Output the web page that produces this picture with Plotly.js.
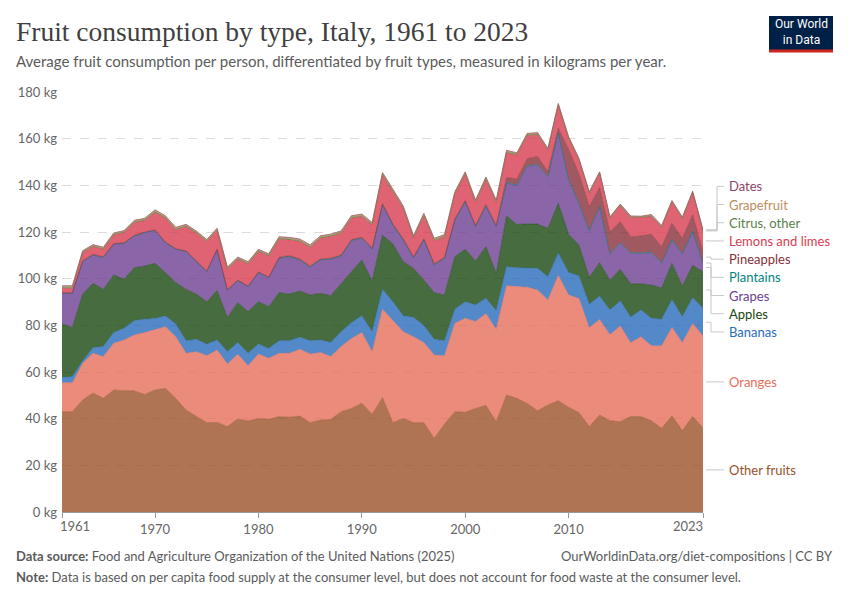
<!DOCTYPE html>
<html>
<head>
<meta charset="utf-8">
<script src="https://cdn.plot.ly/plotly-3.0.1.min.js"></script>
<style>
  html, body { margin: 0; padding: 0; background: #fff; }
  #chart { width: 850px; height: 600px; }
</style>
</head>
<body>
<div id="chart"></div>
<script>
// Per-capita fruit supply in Italy, kg per person per year, 1961–2023
const firstYear = 1961;
const lastYear = 2023;
const years = [];
for (let y = firstYear; y <= lastYear; y++) years.push(y);

const otherFruits = [43,43,48,51,48.7,52.3,52,51.9,50.4,52.3,
  53,48.7,43.7,40.9,38.3,38.4,36.6,39.9,39,40.1,
  39.7,40.9,40.6,41.1,38.3,39.4,39.7,43,44.4,46.6,
  41.9,49,38.3,40.1,38.3,38.3,31.6,37.7,43,42.7,
  44.4,45.7,38.7,50.1,48.7,46.5,43.4,45.9,47.7,44.9,
  42.6,36.6,41.6,39.1,38.7,40.9,40.9,39.1,35.9,41.2,
  34.9,40.9,36.1];

const oranges = [12.4,12.4,15.7,17,17.9,20,21.7,24,26.5,25.7,
  26.4,26.4,24.3,27.8,28.7,31,26.8,27.7,23.7,27.6,
  26.2,27.1,27.4,28.6,29.4,29,26.9,27.9,30,30.3,
  26.8,37.9,44,37.2,36.8,34.3,35.7,29.3,37.9,40.3,
  37.2,39.3,39.6,46.9,47.9,49.8,51.7,45,53.7,48.1,
  48.9,42.4,40.9,36.9,41,31.6,34.2,32.1,35.3,37.9,
  37.6,39.9,39.3];

const bananas = [2.3,2.6,1,2.4,4.3,4.6,5,6.1,5.7,4.9,
  4.6,5.5,5.4,5.3,4.9,4.3,5.3,5,5.3,4.3,
  4.2,5.4,5.4,5.2,5.7,5.3,6,6.4,6.7,7.2,
  8.6,8.5,7.8,6.8,8.3,7.3,6.7,6.4,6,7.1,
  7.1,6.6,8,8.1,8.1,8.4,9.3,9.9,9.5,9.6,
  9.6,10,10,10.6,10.7,11,11.5,11.8,11.4,11.9,
  11.2,11,11.9];

const apples = [22.9,21.1,28.7,27.6,24.5,24.7,21,22.7,22.8,23.7,
  18.6,17.7,22,19.4,18.2,21.2,14.7,17.1,17.9,18.1,
  17.9,20.6,20,19.8,19.6,20,20.1,20.7,21.9,23.9,
  21.7,23.3,24.8,23.2,21,19.5,20,19.6,22.5,22.5,
  18.9,22.1,16,21.8,18.5,18.8,19,20.8,21.4,16.4,
  13.3,11.6,14.3,12.7,13.6,14.3,11.2,14.3,13.4,15.5,
  13.1,13.9,15.7];

const grapes = [13.1,14.6,13.9,12.1,13.7,13.1,15.4,13.6,14.3,14,
  12.8,14.3,16.2,13.9,12.9,17.4,11.6,9.4,10.7,12.5,
  12.4,14.7,16,13.3,11.9,14.3,15.6,11.7,13.3,9.3,
  13.6,12.9,8.1,9.3,4.5,17.2,11.9,15.7,15.7,20.4,
  14.7,17.3,20,14,16.8,24.7,25.3,22.1,30,23.5,
  17.9,19.9,23.9,11.2,11.2,13.1,13,13.8,10.7,10.1,
  13.7,14.4,3.6];

const plantains = [0.1,0.1,0.1,0.1,0.1,0.1,0.1,0.1,0.1,0.1,
  0.1,0.1,0.1,0.1,0.1,0.1,0.1,0.1,0.1,0.1,
  0.1,0.1,0.1,0.1,0.1,0.1,0.1,0.1,0.1,0.1,
  0.1,0.1,0.1,0.1,0.1,0.1,0.1,0.1,0.1,0.1,
  0.1,0.2,0.2,0.2,0.2,0.2,0.2,0.2,0.2,0.2,
  0.2,0.2,0.2,0.2,0.2,0.2,0.2,0.2,0.2,0.2,
  0.2,0.2,0.2];

const pineapples = [0.2,0.2,0.2,0.2,0.2,0.2,0.2,0.2,0.2,0.2,
  0.2,0.2,0.2,0.2,0.2,0.2,0.2,0.2,0.2,0.2,
  0.2,0.4,0.4,0.4,0.4,0.4,0.4,0.4,0.4,0.4,
  0.4,0.4,0.4,0.4,0.4,0.4,0.4,0.4,0.4,0.4,
  0.4,0.6,0.3,2.2,2.6,3,3.5,2,2,12.8,
  12.5,10.2,8.1,9.4,9,6.9,7.3,7.8,6.8,6.9,
  6.6,7,4.8];

const lemonsLimes = [1.8,1.8,3.5,3.3,3.2,3.7,4.3,5.4,4.9,7.4,
  10.2,8,10.4,11.8,12.6,8,8.7,8.9,9.4,8.7,
  9,7.7,6.7,7.4,8,8.8,9.2,9.2,9.1,8.8,
  9.9,12.3,13.8,13,8,9.8,9.8,8.6,10.6,11.2,
  9.8,10.7,9.8,10.6,10.2,9.9,9.2,9.1,9.7,4.5,
  5.7,5.6,6,5.7,6.9,8.2,7.9,7.5,8.3,9,
  8.3,9.4,8.7];

const citrusOther = [0.4,0.4,0.3,0.3,0.3,0.3,0.3,0.4,0.4,0.5,
  0.4,0.4,0.4,0.4,0.4,0.4,0.4,0.4,0.4,0.4,
  0.4,0.4,0.4,0.4,0.4,0.4,0.4,0.4,0.4,0.4,
  0.4,0.4,0.4,0.4,0.4,0.4,0.4,0.4,0.4,0.4,
  0.4,0.4,0.4,0.4,0.4,0.4,0.4,0.4,0.4,0.4,
  0.4,0.4,0.4,0.3,0.3,0.3,0.3,0.4,0.3,0.3,
  0.3,0.3,0.3];

const grapefruit = [0.6,0.6,0.5,0.5,0.5,0.5,0.5,0.5,0.5,0.6,
  0.6,0.6,0.5,0.5,0.4,0.5,0.5,0.5,0.5,0.5,
  0.5,0.6,0.6,0.6,0.6,0.6,0.6,0.6,0.6,0.6,
  0.6,0.6,0.6,0.6,0.6,0.6,0.6,0.6,0.6,0.6,
  0.6,0.6,0.6,0.6,0.5,0.5,0.5,0.4,0.4,0.4,
  0.4,0.3,0.3,0.3,0.3,0.3,0.2,0.4,0.4,0.4,
  0.4,0.4,0.3];

const dates = [0.2,0.2,0.1,0.1,0.1,0.1,0.1,0.1,0.1,0.1,
  0.1,0.1,0.1,0.1,0.1,0.1,0.1,0.1,0.1,0.1,
  0.1,0.1,0.1,0.1,0.1,0.1,0.1,0.1,0.1,0.1,
  0.1,0.1,0.1,0.1,0.1,0.1,0.1,0.1,0.1,0.1,
  0.1,0.1,0.1,0.1,0.1,0.1,0.1,0.1,0.1,0.1,
  0.1,0.1,0.1,0.1,0.1,0.1,0.1,0.1,0.1,0.1,
  0.1,0.1,0.1];

// Stack order, bottom to top
const series = [
  { name: 'Other fruits',     values: otherFruits, color: '#9A5129' },
  { name: 'Oranges',          values: oranges,     color: '#E56E5A' },
  { name: 'Bananas',          values: bananas,     color: '#286BBB' },
  { name: 'Apples',           values: apples,      color: '#18470F' },
  { name: 'Grapes',           values: grapes,      color: '#6D3E91' },
  { name: 'Plantains',        values: plantains,   color: '#00847E' },
  { name: 'Pineapples',       values: pineapples,  color: '#883039' },
  { name: 'Lemons and limes', values: lemonsLimes, color: '#D73C50' },
  { name: 'Citrus, other',    values: citrusOther, color: '#578145' },
  { name: 'Grapefruit',       values: grapefruit,  color: '#BC8E5A' },
  { name: 'Dates',            values: dates,       color: '#8C4569' }
];

const yTicks = [0,20,40,60,80,100,120,140,160,180];
const xTicks = [1961,1970,1980,1990,2000,2010,2023];

function rgba(hex, a) {
  const n = parseInt(hex.slice(1), 16);
  return `rgba(${(n >> 16) & 255},${(n >> 8) & 255},${n & 255},${a})`;
}

// Plot-area geometry in pixels
const W = 850, H = 600;
const PL = 62, PR = 703, PT = 92, PB = 512;
const yMax = 180;
const px2x = px => (px - PL) / (PR - PL);
const px2y = py => (PB - py) / (PB - PT);
const v2py = v => PB - v / yMax * (PB - PT);

const traces = series.map(s => ({
  type: 'scatter',
  mode: 'lines',
  x: years,
  y: s.values,
  name: s.name,
  stackgroup: 'fruit',
  line: { color: s.color, width: 0.5, shape: 'linear' },
  fillcolor: rgba(s.color, 0.8),
  hoverinfo: 'skip'
}));

// End-of-line labels: place each at the middle of its band in the final year,
// then spread overlapping labels apart, keeping each group centred.
const last = years.length - 1;
let cum = 0;
const labels = series.map(s => {
  const v = s.values[last];
  const mid = cum + v / 2;
  cum += v;
  return { name: s.name, color: s.color, ideal: v2py(mid) };
});
const spacing = 18.2;
const sorted = labels.slice().sort((a, b) => a.ideal - b.ideal);
let groups = sorted.map(l => ({ items: [l], center: l.ideal }));
let merged = true;
while (merged) {
  merged = false;
  for (let i = 0; i < groups.length - 1; i++) {
    const g = groups[i], h = groups[i + 1];
    const gBottom = g.center + g.items.length * spacing / 2;
    const hTop = h.center - h.items.length * spacing / 2;
    if (gBottom > hTop) {
      const items = g.items.concat(h.items);
      const center = items.reduce((t, it) => t + it.ideal, 0) / items.length;
      groups.splice(i, 2, { items, center });
      merged = true;
      break;
    }
  }
}
groups.forEach(g => {
  const top = g.center - (g.items.length - 1) * spacing / 2;
  g.items.forEach((it, k) => { it.y = top + k * spacing; });
});

const annotations = [];
const shapes = [];

labels.forEach(l => {
  annotations.push({
    xref: 'paper', yref: 'paper', x: px2x(727), y: px2y(l.y),
    xanchor: 'left', yanchor: 'middle', showarrow: false,
    text: l.name, font: { family: 'Lato', size: 13, color: l.color }
  });
  const xm = l.y < l.ideal - 1 ? 717 : 711;
  const path = Math.abs(l.y - l.ideal) < 1
    ? `M ${px2x(706)},${px2y(l.y)} L ${px2x(724)},${px2y(l.y)}`
    : `M ${px2x(706)},${px2y(l.ideal)} L ${px2x(xm)},${px2y(l.ideal)} L ${px2x(xm)},${px2y(l.y)} L ${px2x(724)},${px2y(l.y)}`;
  shapes.push({
    type: 'path', xref: 'paper', yref: 'paper', path,
    line: { color: '#c8c8c8', width: 1 }
  });
});

// End tick labels sit inside the axis span
annotations.push({
  xref: 'x', yref: 'paper', x: firstYear, y: px2y(526), xanchor: 'left', yanchor: 'middle',
  xshift: -4, showarrow: false, text: String(firstYear), font: { family: 'Lato', size: 13, color: '#666' }
});
annotations.push({
  xref: 'x', yref: 'paper', x: lastYear, y: px2y(526), xanchor: 'right', yanchor: 'middle',
  xshift: 2, showarrow: false, text: String(lastYear), font: { family: 'Lato', size: 13, color: '#666' }
});

// Header
annotations.push({
  xref: 'paper', yref: 'paper', x: px2x(14), y: px2y(31), xanchor: 'left', yanchor: 'middle',
  showarrow: false, text: 'Fruit consumption by type, Italy, 1961 to 2023',
  font: { family: 'Liberation Serif, DejaVu Serif, serif', size: 27.5, color: '#3f3f3f' }
});
annotations.push({
  xref: 'paper', yref: 'paper', x: px2x(14), y: px2y(61), xanchor: 'left', yanchor: 'middle',
  showarrow: false,
  text: 'Average fruit consumption per person, differentiated by fruit types, measured in kilograms per year.',
  font: { family: 'Lato', size: 15, color: '#5b5b5b' }
});

// Logo
shapes.push({ type: 'rect', xref: 'paper', yref: 'paper',
  x0: px2x(769), x1: px2x(833), y0: px2y(16), y1: px2y(52),
  fillcolor: '#002147', line: { width: 0 } });
shapes.push({ type: 'rect', xref: 'paper', yref: 'paper',
  x0: px2x(769), x1: px2x(833), y0: px2y(49.5), y1: px2y(52.5),
  fillcolor: '#CE261E', line: { width: 0 } });
annotations.push({
  xref: 'paper', yref: 'paper', x: px2x(801), y: px2y(32), xanchor: 'center', yanchor: 'middle',
  showarrow: false, text: 'Our World<br>in Data',
  font: { family: 'Roboto, Lato', size: 12, color: '#fff' }
});

// Footer
annotations.push({
  xref: 'paper', yref: 'paper', x: px2x(14), y: px2y(556), xanchor: 'left', yanchor: 'middle',
  showarrow: false,
  text: '<b>Data source:</b> Food and Agriculture Organization of the United Nations (2025)',
  font: { family: 'Lato', size: 13, color: '#5b5b5b' }
});
annotations.push({
  xref: 'paper', yref: 'paper', x: px2x(835), y: px2y(556), xanchor: 'right', yanchor: 'middle',
  showarrow: false, text: 'OurWorldinData.org/diet-compositions | CC BY',
  font: { family: 'Lato', size: 13, color: '#5b5b5b' }
});
annotations.push({
  xref: 'paper', yref: 'paper', x: px2x(14), y: px2y(577), xanchor: 'left', yanchor: 'middle',
  showarrow: false,
  text: '<b>Note:</b> Data is based on per capita food supply at the consumer level, but does not account for food waste at the consumer level.',
  font: { family: 'Lato', size: 13, color: '#5b5b5b' }
});

const layout = {
  width: W, height: H,
  margin: { l: PL, r: W - PR, t: PT, b: H - PB, pad: 0 },
  paper_bgcolor: '#fff', plot_bgcolor: '#fff',
  showlegend: false,
  font: { family: 'Lato', color: '#666' },
  xaxis: {
    range: [firstYear, lastYear],
    tickvals: xTicks,
    ticktext: xTicks.map(t => (t === firstYear || t === lastYear) ? '' : String(t)),
    ticks: 'outside', ticklen: 5, tickcolor: '#999', tickwidth: 1,
    showline: true, linecolor: '#999', linewidth: 1,
    showgrid: false, zeroline: false,
    tickfont: { family: 'Lato', size: 13, color: '#666' },
    fixedrange: true
  },
  yaxis: {
    range: [0, yMax],
    tickvals: yTicks,
    ticktext: yTicks.map(t => t + ' kg'),
    showgrid: true, gridcolor: '#dcdcdc', griddash: 'dash', gridwidth: 1,
    zeroline: false, showline: false, ticks: '',
    ticklabelstandoff: 4,
    tickfont: { family: 'Lato', size: 13, color: '#666' },
    fixedrange: true
  },
  annotations,
  shapes
};

Plotly.newPlot('chart', traces, layout, { staticPlot: true, displayModeBar: false });
</script>
</body>
</html>
